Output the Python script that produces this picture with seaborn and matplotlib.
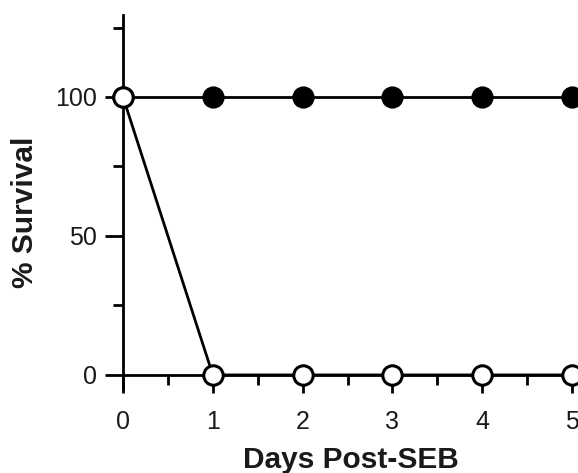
import matplotlib
matplotlib.use("Agg")
import matplotlib.pyplot as plt
import seaborn as sns
import pandas as pd
from matplotlib.ticker import MultipleLocator

sns.set_theme(style="ticks")
plt.rcParams['font.family'] = ['Liberation Sans', 'DejaVu Sans']

days = [0, 1, 2, 3, 4, 5]
treated = [100, 100, 100, 100, 100, 100]
control = [100, 0, 0, 0, 0, 0]

df_t = pd.DataFrame({"day": days, "survival": treated})
df_c = pd.DataFrame({"day": days, "survival": control})

fig = plt.figure(figsize=(5.78, 4.73), dpi=100)
ax = fig.add_axes([123/578, (473-388)/473, (581-123)/578, (388-15)/473])

sns.lineplot(data=df_t, x="day", y="survival", ax=ax, color="black", lw=2,
             marker="o", markersize=14, markerfacecolor="black",
             markeredgecolor="black", markeredgewidth=2, clip_on=False, zorder=3)
sns.lineplot(data=df_c, x="day", y="survival", ax=ax, color="black", lw=2,
             marker="o", markersize=14, markerfacecolor="white",
             markeredgecolor="black", markeredgewidth=2.2, clip_on=False, zorder=4)

ax.set_xlim(0, 5.1)
ax.set_ylim(-4.7, 129.5)
ax.spines['right'].set_visible(False)
ax.spines['top'].set_visible(False)
ax.spines['bottom'].set_position(('data', 0))
for s in ['left', 'bottom']:
    ax.spines[s].set_linewidth(2)
    ax.spines[s].set_color('black')

ax.set_xticks(days)
ax.xaxis.set_minor_locator(MultipleLocator(0.5))
ax.set_yticks([0, 50, 100])
ax.yaxis.set_minor_locator(MultipleLocator(25))
ax.tick_params(axis='both', which='major', length=13, width=2, color='black',
               labelsize=18, labelcolor='#1a1a1a', direction='out')
ax.tick_params(axis='both', which='minor', length=7, width=2, color='black', direction='out')
ax.tick_params(axis='x', which='major', pad=12)
ax.tick_params(axis='y', which='major', pad=6)

ax.set_xlabel("")
ax.set_ylabel("")
fig.text(351/578, 1-468/473, "Days Post-SEB", ha='center', va='baseline',
         fontsize=21.5, fontweight='bold', color='#1a1a1a')
fig.text(25/578, 1-212/473, "% Survival", ha='center', va='center',
         fontsize=21.5, fontweight='bold', rotation=90, color='#1a1a1a')

fig.savefig("out.png", dpi=100)
